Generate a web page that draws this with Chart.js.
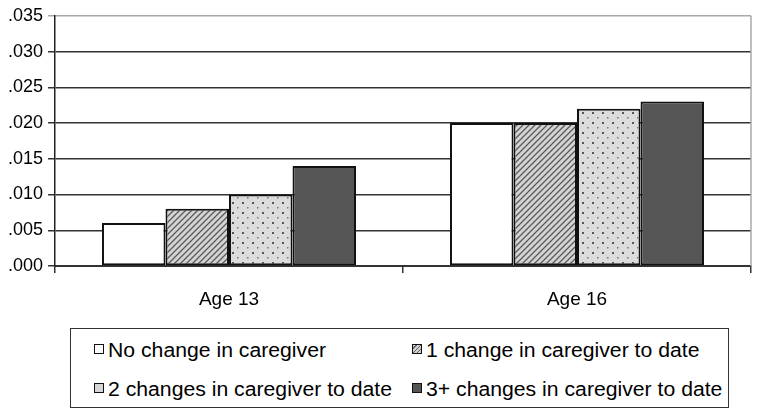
<!DOCTYPE html>
<html>
<head>
<meta charset="utf-8">
<script src="https://cdn.jsdelivr.net/npm/chart.js@4"></script>
<style>
    body { margin: 0; background: #fff; font-family: "Liberation Sans", Arial, sans-serif; }
    #wrap { position: relative; width: 758px; height: 413px; }
    #chartBox { position: absolute; left: 0; top: 0; width: 758px; height: 320px; }
    #legend {
        position: absolute; left: 70px; top: 328px; width: 659px; height: 80px;
        border: 1.5px solid #333; box-sizing: border-box;
    }
    .item { position: absolute; height: 22px; white-space: nowrap; }
    .swatch {
        position: absolute; left: 0; top: 5px; width: 8px; height: 8px;
        border: 1.5px solid #111;
    }
    .txt {
        position: absolute; left: 14px; top: 0; font-size: 20px; line-height: 22px; color: #000;
        transform: scaleX(1.06); transform-origin: left center;
    }
</style>
</head>
<body>
<div id="wrap">
    <div id="chartBox"><canvas id="barChart"></canvas></div>
    <div id="legend"></div>
</div>
<script>
const categories = ['Age 13', 'Age 16'];
const seriesNames = [
    'No change in caregiver',
    '1 change in caregiver to date',
    '2 changes in caregiver to date',
    '3+ changes in caregiver to date'
];
const noChange = [0.006, 0.020];
const oneChange = [0.008, 0.020];
const twoChanges = [0.010, 0.022];
const threePlus = [0.014, 0.023];

// patterns for the bars
const makePattern = (size, draw) => {
    const c = document.createElement('canvas');
    c.width = size;
    c.height = size;
    draw(c.getContext('2d'));
    return c.getContext('2d').createPattern(c, 'repeat');
};

const hatch = makePattern(6, (g) => {
    g.fillStyle = '#d4d4d4';
    g.fillRect(0, 0, 6, 6);
    g.strokeStyle = '#5a5a5a';
    g.lineWidth = 1.3;
    g.beginPath();
    g.moveTo(0, 6); g.lineTo(6, 0);
    g.moveTo(-1, 1); g.lineTo(1, -1);
    g.moveTo(5, 7); g.lineTo(7, 5);
    g.stroke();
});

const dots = makePattern(10, (g) => {
    g.fillStyle = '#dcdcdc';
    g.fillRect(0, 0, 10, 10);
    g.fillStyle = '#555';
    g.fillRect(2, 2, 2, 2);
    g.fillStyle = '#777';
    g.fillRect(7, 7, 1.5, 1.5);
});

const fills = ['#ffffff', hatch, dots, '#555555'];
const seriesData = [noChange, oneChange, twoChanges, threePlus];

const plotBorder = {
    id: 'plotBorder',
    beforeDatasetsDraw(chart) {
        const {ctx, chartArea} = chart;
        ctx.save();
        ctx.strokeStyle = '#a8a8a8';
        ctx.lineWidth = 1.5;
        ctx.beginPath();
        ctx.moveTo(chartArea.right, chartArea.top);
        ctx.lineTo(chartArea.right, chartArea.bottom);
        ctx.stroke();
        ctx.restore();
    }
};

const ctxBar = document.getElementById('barChart');
new Chart(ctxBar, {
    type: 'bar',
    data: {
        labels: categories,
        datasets: seriesNames.map((name, i) => ({
            label: name,
            data: seriesData[i],
            backgroundColor: fills[i],
            borderColor: '#111',
            borderWidth: 2,
            borderSkipped: false,
            categoryPercentage: 0.73,
            barPercentage: 1.0
        }))
    },
    options: {
        responsive: true,
        maintainAspectRatio: false,
        animation: false,
        layout: { padding: { top: 10, right: 7, left: 0, bottom: 0 } },
        plugins: {
            legend: { display: false },
            tooltip: { enabled: false }
        },
        scales: {
            x: {
                grid: { offset: true, drawOnChartArea: false, color: '#333', tickLength: 7, lineWidth: 1.5 },
                border: { color: '#333', width: 2 },
                ticks: {
                    color: '#000',
                    padding: 15,
                    font: { family: 'Liberation Sans', size: 19 }
                },
                afterFit(scale) { scale.height = 54; }
            },
            y: {
                min: 0,
                max: 0.035,
                grid: {
                    color: (c) => (c.tick && c.tick.value >= 0.035 ? '#a8a8a8' : '#333'),
                    lineWidth: 1.5,
                    tickLength: 7
                },
                border: { color: '#222', width: 1.5 },
                ticks: {
                    stepSize: 0.005,
                    color: '#000',
                    padding: 5,
                    font: { family: 'Liberation Sans', size: 18 },
                    callback: (v) => v.toFixed(3).replace(/^0/, '')
                },
                afterFit(scale) { scale.width = 55; }
            }
        }
    },
    plugins: [plotBorder]
});

// legend, two columns like the original
const legendBox = document.getElementById('legend');
const swatchCss = [
    'background:#fff',
    'background:repeating-linear-gradient(135deg,#d0d0d0 0 2px,#666 2px 3px)',
    'background:#d6d6d6',
    'background:#555'
];
const spots = [[23, 10], [341, 10], [23, 49], [341, 49]];
seriesNames.forEach((name, i) => {
    const el = document.createElement('div');
    el.className = 'item';
    el.style.left = spots[i][0] + 'px';
    el.style.top = spots[i][1] + 'px';
    el.innerHTML = `<span class="swatch" style="${swatchCss[i]}"></span><span class="txt">${name}</span>`;
    legendBox.appendChild(el);
});
</script>
</body>
</html>
